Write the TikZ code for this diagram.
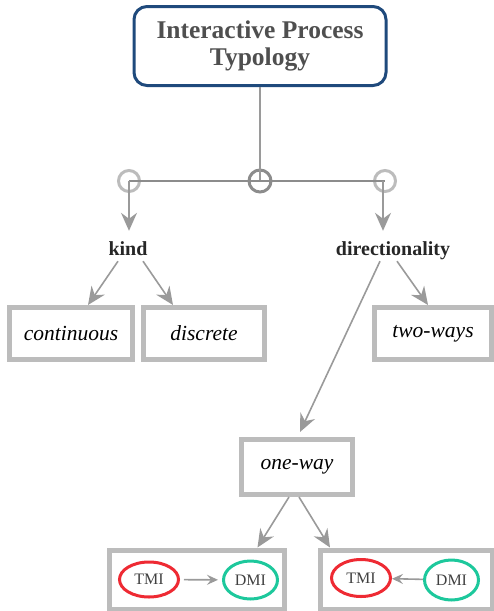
\documentclass[tikz,border=0pt]{standalone}
\usepackage{fontspec}
\setmainfont{Liberation Serif}
\usetikzlibrary{arrows.meta,shapes.geometric}
\definecolor{titleblue}{HTML}{1F4A7C}
\definecolor{titletext}{HTML}{4F4F4F}
\definecolor{boxgray}{HTML}{BCBCBC}
\definecolor{linegray}{HTML}{9A9A9A}
\definecolor{tmired}{HTML}{EE2A33}
\definecolor{dmigreen}{HTML}{1DC89C}

\begin{document}
\begin{tikzpicture}[x=1pt,y=-1pt,
		conn/.style={-{Stealth[length=18pt,width=16pt,inset=6pt]},draw=linegray,line width=1.6pt},
		small/.style={-{Stealth[length=11pt,width=10pt,inset=4pt]},draw=linegray,line width=1.6pt},
		titlebox/.style={draw=titleblue,line width=3pt,rounded corners=13pt,minimum width=252pt,minimum height=79pt,align=center,text=titletext,font=\fontsize{25.5}{27}\selectfont\bfseries},
		facet/.style={text=black!85,font=\fontsize{20}{22}\selectfont\bfseries,text height=14pt,text depth=2pt,inner sep=4pt},
		valbox/.style={draw=boxgray,line width=5pt,inner sep=0pt,font=\fontsize{21.5}{24}\selectfont\itshape},
		junction/.style={circle,draw=#1,line width=3pt,inner sep=0pt},
		agent/.style={ellipse,draw=#1,line width=3pt,inner sep=0pt,text=black!75,font=\fontsize{16}{18}\selectfont}]
	\useasboundingbox (0,0) rectangle (494,611);
	\node[titlebox] (title) at (260,46) {Interactive Process\\Typology};
	\node[junction=black!45,minimum size=22pt] (mj) at (260,181) {};
	\node[junction=boxgray,minimum size=21pt] (lj) at (129,181) {};
	\node[junction=boxgray,minimum size=21pt] (rj) at (385,181) {};
	\draw[draw=linegray,line width=2pt] (title.south) -- (mj.center);
	\draw[draw=black!45,line width=1.5pt] (lj.center) -- (rj.center);
	\node[facet,anchor=base] (kind) at (128,255) {kind};
	\node[facet,anchor=base] (dir) at (393,255) {directionality};
	\draw[conn,shorten >=6pt] (lj.center) -- (lj.center |- kind.north);
	\draw[conn,shorten >=6pt] ([xshift=-2pt]rj.center) -- ([xshift=-2pt]rj.center |- dir.north);
	\node[valbox,minimum width=123pt,minimum height=52pt] (cont) at (71,333.5) {continuous};
	\node[valbox,minimum width=121pt,minimum height=52pt] (disc) at (204,333.5) {discrete};
	\node[valbox,minimum width=117pt,minimum height=52pt] (two) at (433,333.5) {two-ways};
	\node[valbox,minimum width=111pt,minimum height=55pt] (one) at (297,467) {one-way};
	\draw[conn] ([xshift=-10pt]kind.south) -- ([xshift=17pt]cont.north);
	\draw[conn] ([xshift=15pt]kind.south) -- ([xshift=-31pt]disc.north);
	\draw[conn] ([xshift=-13pt]dir.south) -- ([xshift=3pt,yshift=5pt]one.north);
	\draw[conn] ([xshift=4pt]dir.south) -- ([xshift=-5pt]two.north);
	\node[valbox,minimum width=175pt,minimum height=59pt] (oneA) at (196.5,579.5) {};
	\node[valbox,minimum width=172pt,minimum height=59pt] (oneB) at (406,579.5) {};
	\draw[conn] ([xshift=-8pt]one.south) -- ([xshift=61pt]oneA.north);
	\draw[conn] ([xshift=2pt]one.south) -- ([xshift=-76pt]oneB.north);
	\node[agent=tmired,minimum width=59pt,minimum height=35pt] (tmiA) at (149,579.5) {TMI};
	\node[agent=dmigreen,minimum width=54pt,minimum height=38pt] (dmiA) at (250.5,580) {DMI};
	\node[agent=tmired,minimum width=59pt,minimum height=37pt] (tmiB) at (361,578) {TMI};
	\node[agent=dmigreen,minimum width=54pt,minimum height=40pt] (dmiB) at (451.5,580) {DMI};
	\draw[small,shorten <=4pt,shorten >=4pt] (tmiA) -- (dmiA);
	\draw[small] (dmiB) -- (tmiB);
\end{tikzpicture}
\end{document}
